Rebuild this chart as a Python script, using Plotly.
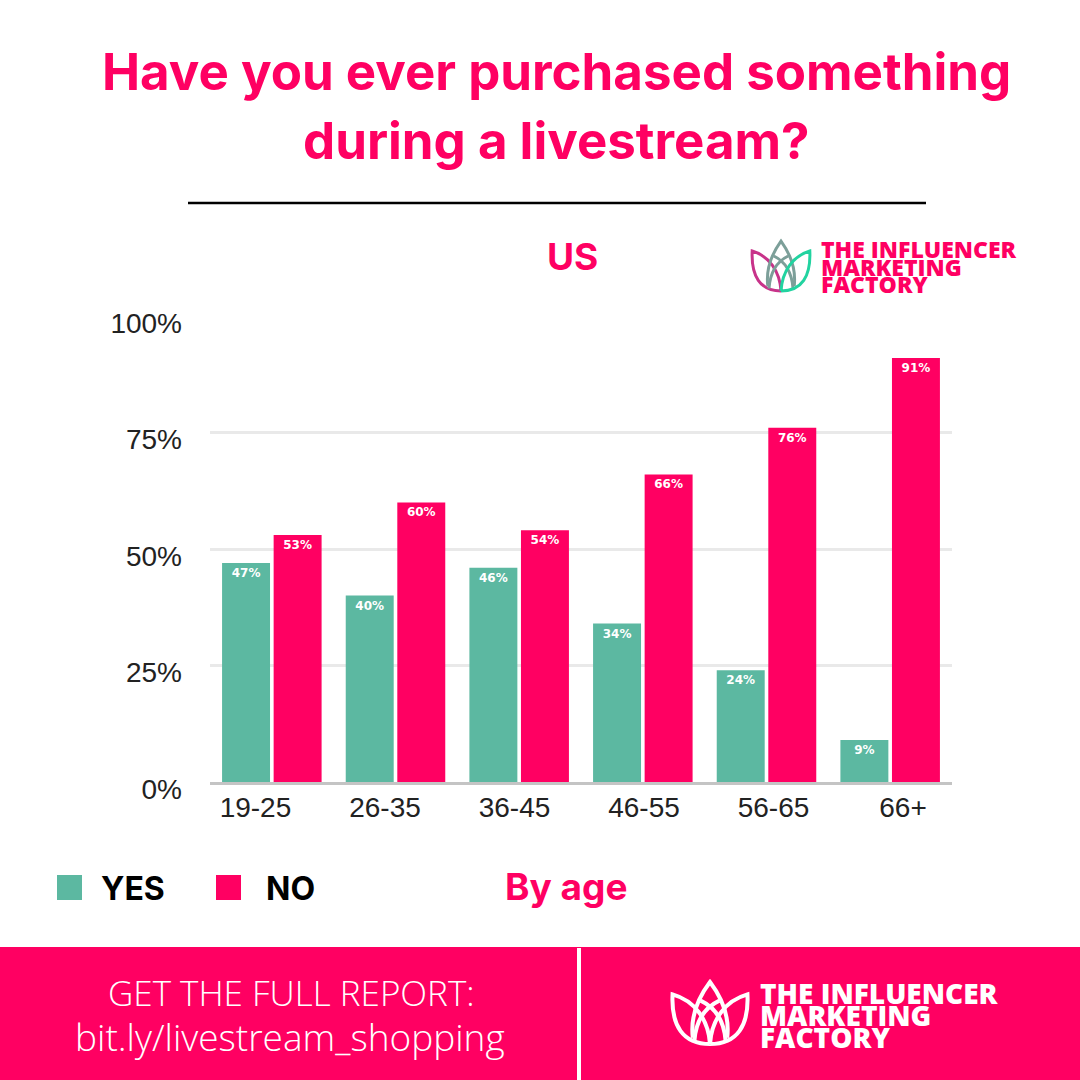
import plotly.graph_objects as go

# ---------------- data ----------------
age_groups = ["19-25", "26-35", "36-45", "46-55", "56-65", "66+"]
yes_values = [47, 40, 46, 34, 24, 9]
no_values = [53, 60, 54, 66, 76, 91]
y_ticks = [0, 25, 50, 75, 100]
y_tick_labels = ["0%", "25%", "50%", "75%", "100%"]

PINK = "#FF0062"
TEAL = "#5CB8A1"
W = H = 1080


def px(x):
    return x / W


def py(y):
    return 1 - y / H


fig = go.Figure()

fig.add_trace(go.Bar(
    x=age_groups, y=yes_values, name="YES", marker=dict(color=TEAL, line=dict(width=0)),
    text=[f"{v}%" for v in yes_values], textposition="inside", insidetextanchor="end",
    textfont=dict(family="DejaVu Sans", size=12, color="white", weight="bold"),
    constraintext="none", cliponaxis=False, showlegend=False,
))
fig.add_trace(go.Bar(
    x=age_groups, y=no_values, name="NO", marker=dict(color=PINK, line=dict(width=0)),
    text=[f"{v}%" for v in no_values], textposition="inside", insidetextanchor="end",
    textfont=dict(family="DejaVu Sans", size=12, color="white", weight="bold"),
    constraintext="none", cliponaxis=False, showlegend=False,
))
# carrier for the separately spaced category labels
fig.add_trace(go.Scatter(x=age_groups, y=no_values, xaxis="x2", mode="none",
                         hoverinfo="skip", showlegend=False))

x_dom = [px(210), px(952)]
fig.update_layout(
    width=W, height=H, autosize=False,
    margin=dict(l=0, r=0, t=0, b=0, pad=0, autoexpand=False),
    paper_bgcolor="white", plot_bgcolor="white",
    barmode="group", bargap=0.166, bargroupgap=0.07,
    xaxis=dict(domain=x_dom, showticklabels=False, showgrid=False, zeroline=False,
               showline=True, linecolor="#c4c4c4", linewidth=3, ticks="",
               automargin=False, fixedrange=True),
    xaxis2=dict(domain=x_dom, overlaying="x", anchor="y", type="category",
                range=[-0.351, 5.378], showgrid=False, showline=False, zeroline=False,
                ticks="", automargin=False,
                tickfont=dict(family="Liberation Sans", size=28, color="#222"),
                ticklabelstandoff=6),
    yaxis=dict(domain=[py(782), py(316)], range=[0, 100], tickvals=y_ticks,
               ticktext=y_tick_labels, showgrid=True, gridcolor="#e9e9e9", gridwidth=2.5,
               zeroline=False, showline=False, ticks="", automargin=False,
               tickfont=dict(family="Liberation Sans", size=28, color="#222"),
               ticklabelstandoff=27, ticklabelshift=7),
)

annotations = []
shapes = []

# title
annotations.append(dict(text="Have you ever purchased something", x=px(556), y=py(72),
                        font=dict(family="Inter", size=51, color=PINK, weight="bold")))
annotations.append(dict(text="during a livestream?", x=px(556), y=py(140),
                        font=dict(family="Inter", size=51, color=PINK, weight="bold")))
shapes.append(dict(type="line", x0=px(188), x1=px(926), y0=py(203), y1=py(203),
                   line=dict(color="black", width=2.5)))

# subtitle
annotations.append(dict(text="US", x=px(572), y=py(257),
                        font=dict(family="Inter", size=37, color=PINK, weight="bold")))

# top logo text
for i, t in enumerate(["THE INFLUENCER", "MARKETING", "FACTORY"]):
    annotations.append(dict(text=t, x=px(819), y=py(249 + i * 17.5), xanchor="left",
                            font=dict(family="Open Sans", size=23, color=PINK, weight=800)))

# legend
shapes.append(dict(type="rect", x0=px(57), x1=px(82), y0=py(875), y1=py(900),
                   fillcolor=TEAL, line=dict(width=0)))
shapes.append(dict(type="rect", x0=px(216), x1=px(241), y0=py(875), y1=py(900),
                   fillcolor=PINK, line=dict(width=0)))
annotations.append(dict(text="YES", x=px(99), y=py(888), xanchor="left",
                        font=dict(family="Inter", size=32, color="black", weight="bold")))
annotations.append(dict(text="NO", x=px(264), y=py(888), xanchor="left",
                        font=dict(family="Inter", size=32, color="black", weight="bold")))
annotations.append(dict(text="By age", x=px(503), y=py(886), xanchor="left",
                        font=dict(family="Inter", size=37, color=PINK, weight="bold")))

# footer
shapes.append(dict(type="rect", x0=0, x1=1, y0=0, y1=py(947), fillcolor=PINK,
                   line=dict(width=0), layer="below"))
shapes.append(dict(type="line", x0=px(579), x1=px(579), y0=0, y1=py(948),
                   line=dict(color="white", width=4)))
annotations.append(dict(text="GET THE FULL REPORT:", x=px(291), y=py(992),
                        font=dict(family="Open Sans", size=35, color="white", weight=300)))
annotations.append(dict(text="bit.ly/livestream_shopping", x=px(290), y=py(1036),
                        font=dict(family="Open Sans", size=37, color="white", weight=300)))
for i, t in enumerate(["THE INFLUENCER", "MARKETING", "FACTORY"]):
    annotations.append(dict(text=t, x=px(758), y=py(993 + i * 22), xanchor="left",
                            font=dict(family="Open Sans", size=28, color="white", weight=800)))


def lotus(x0, y0, w, h, colors, width):
    def P(u, v):
        return f"{px(x0 + u * w):.5f},{py(y0 + v * h):.5f}"
    left = f"M{P(0.5,1)} C{P(0.15,1)} {P(0.0,0.7)} {P(0.02,0.2)} C{P(0.3,0.3)} {P(0.48,0.6)} {P(0.5,1)}"
    right = f"M{P(0.5,1)} C{P(0.85,1)} {P(1.0,0.7)} {P(0.98,0.2)} C{P(0.7,0.3)} {P(0.52,0.6)} {P(0.5,1)}"
    center = f"M{P(0.28,0.9)} C{P(0.24,0.5)} {P(0.38,0.2)} {P(0.5,0.0)} C{P(0.62,0.2)} {P(0.76,0.5)} {P(0.72,0.9)}"
    cross1 = f"M{P(0.3,0.95)} C{P(0.32,0.6)} {P(0.45,0.4)} {P(0.62,0.3)}"
    cross2 = f"M{P(0.7,0.95)} C{P(0.68,0.6)} {P(0.55,0.4)} {P(0.38,0.3)}"
    out = []
    for path, c in [(left, colors[0]), (center, colors[1]), (cross1, colors[1]),
                    (cross2, colors[1]), (right, colors[2])]:
        out.append(dict(type="path", path=path, line=dict(color=c, width=width)))
    return out


shapes += lotus(751, 241, 60, 50, ["#C8338A", "#7C9F99", "#22D3A0"], 3)
shapes += lotus(671, 982, 78, 62, ["white", "white", "white"], 4)

for s in shapes:
    s["xref"] = "paper"
    s["yref"] = "paper"
for a in annotations:
    a.setdefault("xref", "paper")
    a.setdefault("yref", "paper")
    a.setdefault("showarrow", False)
    a.setdefault("xanchor", "center")
    a.setdefault("yanchor", "middle")
fig.update_layout(annotations=annotations, shapes=shapes)

fig.write_html("out.html", config=dict(displayModeBar=False, responsive=False),
               post_script="document.body.style.margin='0';")
